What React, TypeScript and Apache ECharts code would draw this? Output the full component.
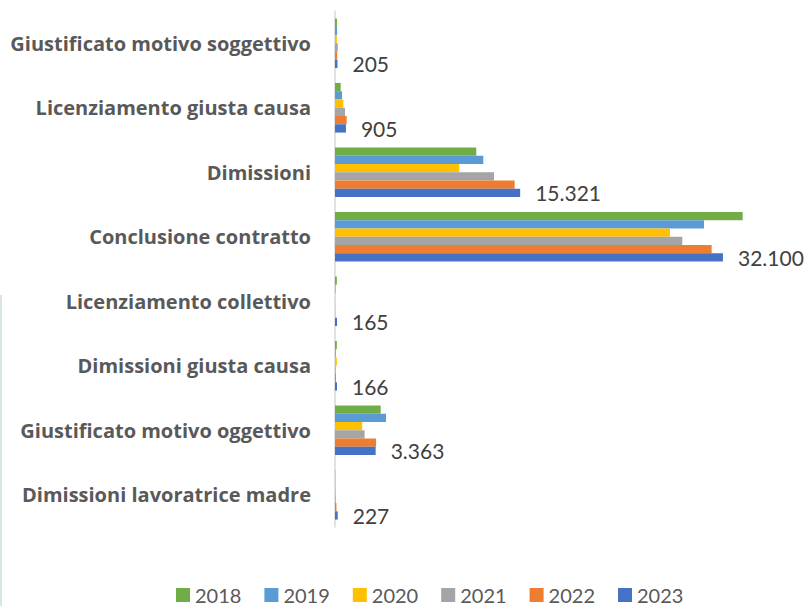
import React, { useEffect, useRef } from "react";
import * as echarts from "echarts";

const categories = [
  "Giustificato motivo soggettivo",
  "Licenziamento giusta causa",
  "Dimissioni",
  "Conclusione contratto",
  "Licenziamento collettivo",
  "Dimissioni giusta causa",
  "Giustificato motivo oggettivo",
  "Dimissioni lavoratrice madre",
];

const years = ["2018", "2019", "2020", "2021", "2022", "2023"];

const v2018 = [160, 470, 11690, 33730, 150, 150, 3780, 20];
const v2019 = [170, 580, 12270, 30530, 40, 60, 4220, 20];
const v2020 = [150, 690, 10285, 27715, 10, 150, 2250, 60];
const v2021 = [230, 830, 13155, 28735, 10, 60, 2450, 60];
const v2022 = [180, 965, 14865, 31165, 15, 80, 3400, 120];
const v2023 = [205, 905, 15321, 32100, 165, 166, 3363, 227];

const seriesValues = [v2018, v2019, v2020, v2021, v2022, v2023];
const colors = ["#70ad47", "#5b9bd5", "#ffc000", "#a5a5a5", "#ed7d31", "#4472c4"];

const fmt = (v: number) => String(v).replace(/\B(?=(\d{3})+(?!\d))/g, ".");

export default function App() {
  const ref = useRef<HTMLDivElement>(null);
  useEffect(() => {
    document.body.style.margin = "0";
    const chart = echarts.init(ref.current!, null, { renderer: "svg" });
    chart.setOption({
      animation: false,
      backgroundColor: "#ffffff",
      grid: { left: 335, top: 11, height: 516, right: 53, containLabel: false },
      xAxis: { type: "value", min: 0, max: 35000, show: false },
      yAxis: {
        type: "category",
        inverse: true,
        data: categories,
        axisLine: { show: true, lineStyle: { color: "#d9d9d9", width: 1.5 } },
        axisTick: { show: false },
        splitLine: { show: false },
        axisLabel: {
          margin: 24,
          fontFamily: "Open Sans",
          fontWeight: "bold",
          fontSize: 20,
          color: "#595959",
        },
      },
      legend: {
        left: 176,
        top: 585,
        padding: 0,
        icon: "rect",
        itemWidth: 14,
        itemHeight: 14,
        itemGap: 23,
        textStyle: { fontFamily: "Lato", fontSize: 20, color: "#595959" },
        data: years,
      },
      graphic: [
        {
          type: "line",
          shape: { x1: 1, y1: 295, x2: 1, y2: 606 },
          style: { stroke: "#d6e7e4", lineWidth: 2 },
        },
      ],
      series: years.map((y, i) => ({
        name: y,
        type: "bar",
        data: seriesValues[i],
        barGap: "0%",
        barCategoryGap: "23%",
        itemStyle: { color: colors[i] },
        label:
          i === years.length - 1
            ? {
                show: true,
                position: "right",
                distance: 15,
                fontFamily: "Lato",
                fontSize: 21,
                color: "#404040",
                formatter: (p: any) => fmt(p.value),
              }
            : { show: false },
      })),
    });
    return () => chart.dispose();
  }, []);
  return <div ref={ref} style={{ width: 811, height: 606 }} />;
}
